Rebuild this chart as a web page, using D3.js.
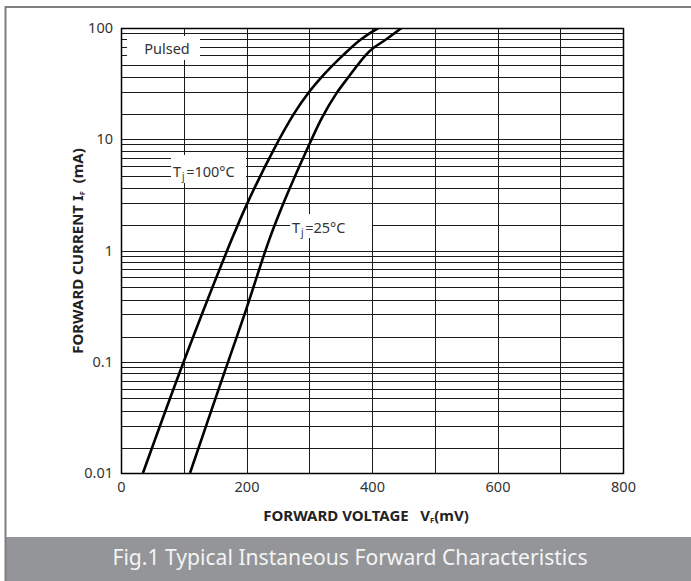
<!DOCTYPE html>
<html>
<head>
<meta charset="utf-8">
<script src="https://cdn.jsdelivr.net/npm/d3@7"></script>
<style>
body { margin: 0; background: #fff; }
svg { display: block; font-family: "Noto Sans", sans-serif; }
</style>
</head>
<body>
<div id="chart"></div>
<script>
// axis ticks
const xTicks = [0, 200, 400, 600, 800]
const xGridLines = [100, 200, 300, 400, 500, 600, 700]
const yTicks = [0.01, 0.1, 1, 10, 100]
const yTickLabels = ["0.01", "0.1", "1", "10", "100"]
const decades = [0.01, 0.1, 1, 10]
// minor grid steps inside each decade
const minorSteps = [1.68, 2.66, 3.61, 4.69, 5.72, 6.75, 7.9, 8.98]

// [VF (mV), IF (mA)]
const tj100 = [[35, 0.01], [99, 0.097], [176, 1.24], [200, 2.56], [243, 8.0], [276, 17.1],
    [300, 26.7], [320, 36.4], [354, 57], [381, 78], [410, 100]]
const tj25 = [[110, 0.01], [160, 0.067], [199, 0.29], [236, 1.24], [261, 2.84], [296, 8.0],
    [320, 15.5], [343, 25.7], [362, 35.9], [390, 57], [402, 66], [421, 78], [447, 100]]

const W = 691, H = 581
const m = { left: 121, top: 28, right: 623, bottom: 473 }

const svg = d3.select("#chart").append("svg")
    .attr("width", W)
    .attr("height", H)

svg.append("rect").attr("width", W).attr("height", H).attr("fill", "#fff")

const x = d3.scaleLinear().domain([0, 800]).range([m.left, m.right])
const y = d3.scaleLog().domain([0.01, 100]).range([m.bottom, m.top])

// grid
const hLines = []
decades.forEach(d => {
    hLines.push(d)
    minorSteps.forEach(s => hLines.push(d * s))
})
hLines.push(100)

const grid = svg.append("g")
    .attr("stroke", "#1a1a1a")
    .attr("stroke-width", 1)
    .attr("shape-rendering", "crispEdges")

grid.selectAll("line.h").data(hLines).enter().append("line")
    .attr("class", "h")
    .attr("x1", m.left).attr("x2", m.right)
    .attr("y1", d => Math.round(y(d)) + 0.5)
    .attr("y2", d => Math.round(y(d)) + 0.5)

grid.selectAll("line.v").data(xGridLines).enter().append("line")
    .attr("class", "v")
    .attr("y1", m.top).attr("y2", m.bottom)
    .attr("x1", d => Math.round(x(d)) + 0.5)
    .attr("x2", d => Math.round(x(d)) + 0.5)

// label boxes sit on top of the grid
const boxes = [
    { x: 127, y: 36, w: 73, h: 24 },
    { x: 171, y: 155, w: 75, h: 28 },
    { x: 290, y: 214, w: 82, h: 24 }
]
svg.append("g").selectAll("rect").data(boxes).enter().append("rect")
    .attr("x", d => d.x).attr("y", d => d.y)
    .attr("width", d => d.w).attr("height", d => d.h)
    .attr("fill", "#fff")

// frame of plot
svg.append("rect")
    .attr("x", m.left + 0.5).attr("y", m.top + 0.5)
    .attr("width", m.right - m.left).attr("height", m.bottom - m.top)
    .attr("fill", "none")
    .attr("stroke", "#000")
    .attr("stroke-width", 1.5)

// curves
svg.append("clipPath").attr("id", "clip")
    .append("rect")
    .attr("x", m.left).attr("y", m.top)
    .attr("width", m.right - m.left).attr("height", m.bottom - m.top)

const line = d3.line()
    .x(d => x(d[0]))
    .y(d => y(d[1]))
    .curve(d3.curveCatmullRom.alpha(0.5))

svg.append("g").attr("clip-path", "url(#clip)")
    .selectAll("path").data([tj100, tj25]).enter().append("path")
    .attr("d", line)
    .attr("fill", "none")
    .attr("stroke", "#000")
    .attr("stroke-width", 2.6)

// axes
const yAxis = svg.append("g")
    .attr("transform", `translate(${m.left},0)`)
    .call(d3.axisLeft(y).tickValues(yTicks).tickFormat((d, i) => yTickLabels[i]).tickSize(0).tickPadding(8))
yAxis.select(".domain").remove()

const xAxis = svg.append("g")
    .attr("transform", `translate(0,${m.bottom})`)
    .call(d3.axisBottom(x).tickValues(xTicks).tickSize(0).tickPadding(9))
xAxis.select(".domain").remove()

svg.selectAll(".tick text")
    .attr("font-family", "Noto Sans, sans-serif")
    .attr("font-size", 14.5)
    .attr("fill", "#333")

// annotations
const ann = svg.append("g")
    .attr("font-size", 14.5)
    .attr("fill", "#333")

ann.append("text").attr("x", 167).attr("y", 54).attr("text-anchor", "middle").text("Pulsed")

const t100 = ann.append("text").attr("x", 173).attr("y", 177)
t100.append("tspan").text("T")
t100.append("tspan").attr("font-size", 10).attr("dx", 1).attr("dy", 3).text("j")
t100.append("tspan").attr("dx", 1.5).attr("dy", -3).text("=100°C")

const t25 = ann.append("text").attr("x", 292).attr("y", 233)
t25.append("tspan").text("T")
t25.append("tspan").attr("font-size", 10).attr("dx", 1).attr("dy", 3).text("j")
t25.append("tspan").attr("dx", 1.5).attr("dy", -3).text("=25°C")

// axis titles
const xt = svg.append("text")
    .attr("x", 366).attr("y", 521)
    .attr("text-anchor", "middle")
    .attr("font-size", 15)
    .attr("font-weight", "bold")
    .attr("fill", "#222")
xt.append("tspan").text("FORWARD VOLTAGE\u00a0\u00a0\u00a0V")
xt.append("tspan").attr("font-size", 7.5).attr("dy", 2).text("F")
xt.append("tspan").attr("dy", -2).text("(mV)")

const yt = svg.append("text")
    .attr("transform", "translate(83,251) rotate(-90)")
    .attr("text-anchor", "middle")
    .attr("font-size", 15)
    .attr("font-weight", "bold")
    .attr("fill", "#222")
yt.append("tspan").text("FORWARD CURRENT I")
yt.append("tspan").attr("font-size", 7.5).attr("dy", 2).text("F")
yt.append("tspan").attr("dy", -2).text("\u00a0\u00a0(mA)")

// footer + outer frame
svg.append("rect")
    .attr("x", 6).attr("y", 537)
    .attr("width", W - 6).attr("height", H - 537)
    .attr("fill", "#939598")

svg.append("text")
    .attr("x", 350).attr("y", 565)
    .attr("text-anchor", "middle")
    .attr("font-size", 21.1)
    .attr("fill", "#f4f4f4")
    .text("Fig.1 Typical Instaneous Forward Characteristics")

svg.append("path")
    .attr("d", `M5.5,${H} V7 H${W}`)
    .attr("fill", "none")
    .attr("stroke", "#7f7f7f")
    .attr("stroke-width", 2)
</script>
</body>
</html>
